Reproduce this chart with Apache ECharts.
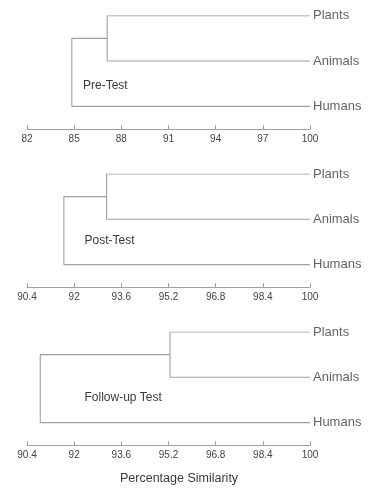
<!DOCTYPE html>
<html><head><meta charset="utf-8">
<script src="https://cdn.jsdelivr.net/npm/echarts@6/dist/echarts.min.js"></script>
<style>html,body{margin:0;padding:0;background:#fff}#c{width:372px;height:489px}</style>
</head><body><div id="c"></div>
<script>
// Leaves (top to bottom)
const leaves = ['Plants', 'Animals', 'Humans'];
const panelTitles = ['Pre-Test', 'Post-Test', 'Follow-up Test'];
// Similarity at which Plants & Animals join, and at which Humans joins the cluster
const joinPlantsAnimals = [87.1, 93.1, 95.25];
const joinHumans = [84.85, 91.65, 90.85];
const axisMin = [82, 90.4, 90.4];
const axisMax = [100, 100, 100];
const ticks1 = [82, 85, 88, 91, 94, 97, 100];
const ticks2 = [90.4, 92, 93.6, 95.2, 96.8, 98.4, 100];
const ticks3 = [90.4, 92, 93.6, 95.2, 96.8, 98.4, 100];
const tickSets = [ticks1, ticks2, ticks3];
const xAxisName = 'Percentage Similarity';

const chart = echarts.init(document.getElementById('c'), null, {renderer: 'canvas'});
const FONT = '"Liberation Sans", Arial, sans-serif';
const lineColor = '#a0a0a0';
const textColor = '#3a3a3a';

const gridTops = [15.7, 174, 332];
const grids = [], xAxes = [], yAxes = [], series = [], graphics = [];
const labelTops = [79.5, 234.5, 392];
const labelLefts = [83, 84.5, 84.5];

for (let i = 0; i < 3; i++) {
  grids.push({left: 27, width: 283, top: gridTops[i], height: 113.3});
  xAxes.push({
    type: 'value', gridIndex: i, min: axisMin[i], max: axisMax[i],
    axisLine: {show: true, onZero: false, lineStyle: {color: lineColor, width: 1}},
    axisTick: {show: true, inside: true, length: 4, customValues: tickSets[i], lineStyle: {color: lineColor}},
    axisLabel: {show: true, customValues: tickSets[i], margin: 5, fontFamily: FONT, fontSize: 10, color: '#444',
      formatter: v => String(v)},
    splitLine: {show: false}
  });
  yAxes.push({type: 'value', gridIndex: i, min: -0.5, max: 2, show: false});
  const yP = 2, yA = 1, yH = 0;
  const n1 = joinPlantsAnimals[i], n2 = joinHumans[i];
  // Plants-Animals cluster
  series.push({
    type: 'line', xAxisIndex: i, yAxisIndex: i, symbol: 'none', silent: true,
    lineStyle: {color: lineColor, width: 1.1},
    data: [[100, yP], [n1, yP], [n1, yA], [100, yA]]
  });
  // Humans joining the cluster
  series.push({
    type: 'line', xAxisIndex: i, yAxisIndex: i, symbol: 'none', silent: true,
    lineStyle: {color: lineColor, width: 1.1},
    data: [[100, yH], [n2, yH], [n2, (yP + yA) / 2], [n1, (yP + yA) / 2]]
  });
  // Leaf labels
  series.push({
    type: 'scatter', xAxisIndex: i, yAxisIndex: i, symbolSize: 0, silent: true,
    label: {show: true, position: 'right', distance: 3, fontFamily: FONT, fontSize: 13, color: textColor,
      formatter: p => p.data[2]},
    data: [[100, yP, leaves[0]], [100, yA, leaves[1]], [100, yH, leaves[2]]]
  });
  graphics.push({
    type: 'text', left: labelLefts[i], top: labelTops[i],
    style: {text: panelTitles[i], font: '12px ' + FONT, fill: textColor}
  });
}
graphics.push({
  type: 'text', left: 120, top: 472,
  style: {text: xAxisName, font: '12.5px ' + FONT, fill: textColor}
});

chart.setOption({
  animation: false,
  grid: grids, xAxis: xAxes, yAxis: yAxes, series: series, graphic: graphics
});
</script></body></html>
